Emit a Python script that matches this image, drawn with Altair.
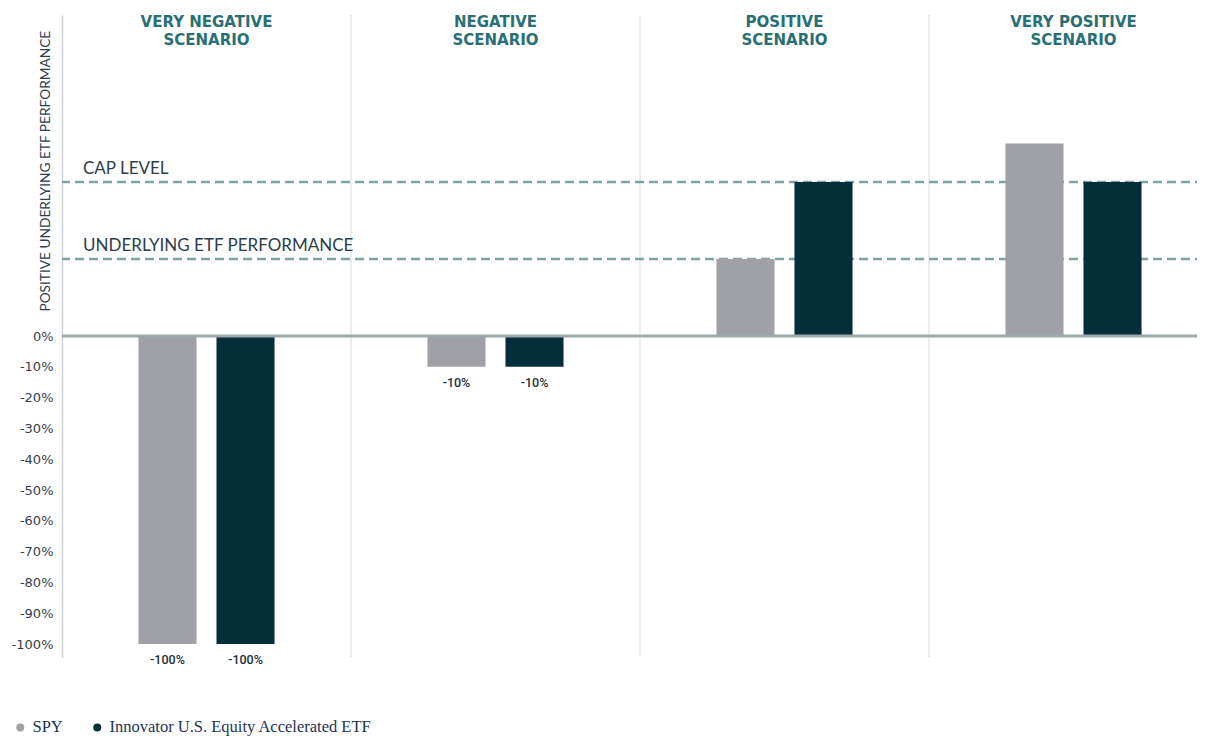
import altair as alt
import pandas as pd

# ---------------- data ----------------
scenarios = ["VERY NEGATIVE SCENARIO", "NEGATIVE SCENARIO", "POSITIVE SCENARIO", "VERY POSITIVE SCENARIO"]
headers = ["VERY NEGATIVE\nSCENARIO", "NEGATIVE\nSCENARIO", "POSITIVE\nSCENARIO", "VERY POSITIVE\nSCENARIO"]
series = ["SPY", "Innovator U.S. Equity Accelerated ETF"]
spy_values = [-100, -10, 25, 62.5]
etf_values = [-100, -10, 50, 50]
spy_labels = ["-100%", "-10%", "", ""]
etf_labels = ["-100%", "-10%", "", ""]
ref_levels = [50, 25]
ref_labels = ["CAP LEVEL", "UNDERLYING ETF PERFORMANCE"]
y_ticks = [0, -10, -20, -30, -40, -50, -60, -70, -80, -90, -100]
y_title = "POSITIVE UNDERLYING ETF PERFORMANCE"
colors = ["#a0a1a6", "#032e3a"]

rows = []
for i, s in enumerate(scenarios):
    rows.append({"scenario": s, "series": series[0], "value": spy_values[i], "label": spy_labels[i]})
    rows.append({"scenario": s, "series": series[1], "value": etf_values[i], "label": etf_labels[i]})
bars_df = pd.DataFrame(rows)
head_df = pd.DataFrame({"scenario": scenarios, "header": headers})
sep_df = pd.DataFrame({"scenario": scenarios[1:]})
ref_df = pd.DataFrame({"level": ref_levels, "text": ref_labels})

W, H = 1156, 642
xscale = alt.Scale(domain=scenarios, paddingInner=0, paddingOuter=0)
yscale = alt.Scale(domain=[-104.2, 104.2], nice=False)
X = alt.X("scenario:N", sort=scenarios, scale=xscale, axis=None)
XO = alt.XOffset("series:N", sort=series,
                 scale=alt.Scale(domain=series, paddingInner=0.256, paddingOuter=0.98))

bars = alt.Chart(bars_df).mark_bar().encode(
    x=X,
    xOffset=XO,
    y=alt.Y("value:Q", scale=yscale,
            axis=alt.Axis(values=y_ticks, labelExpr="datum.value + '%'", ticks=False, grid=False,
                          domainColor="#cdd2d5", domainWidth=1.5, labelPadding=9,
                          labelFont="DejaVu Sans", labelFontSize=13, labelColor="#34414b",
                          title=None)),
    color=alt.Color("series:N", sort=series, scale=alt.Scale(domain=series, range=colors),
                    legend=alt.Legend(orient="none", legendX=-50, legendY=704, direction="horizontal",
                                      title=None, symbolType="circle", symbolSize=64,
                                      symbolStrokeWidth=0, labelFont="Liberation Serif",
                                      labelFontSize=16.5, labelColor="#1e3456", columnPadding=26,
                                      labelOffset=4, labelLimit=0)),
)

bar_text = alt.Chart(bars_df).mark_text(
    baseline="middle", dy=16, font="Roboto", fontSize=12.5, fontWeight=500, color="#1d2f3c"
).encode(x=X, xOffset=XO, y=alt.Y("value:Q", scale=yscale), text="label:N")

seps = alt.Chart(sep_df).mark_rule(color="#d6dadd", strokeWidth=1).encode(
    x=alt.X("scenario:N", sort=scenarios, scale=xscale, axis=None, bandPosition=0)
)

zero = alt.Chart(pd.DataFrame({"v": [0]})).mark_rule(color="#9ea8ab", strokeWidth=3).encode(
    y=alt.Y("v:Q", scale=yscale)
)

refs = alt.Chart(ref_df).mark_rule(color="#7fa3a4", strokeWidth=2.5, strokeDash=[9, 5]).encode(
    y=alt.Y("level:Q", scale=yscale)
)

ref_text = alt.Chart(ref_df).mark_text(
    align="left", baseline="alphabetic", dy=-8, font="Lato", fontSize=17, color="#2d3e4b"
).encode(x=alt.value(21), y=alt.Y("level:Q", scale=yscale), text="text:N")

head_text = alt.Chart(head_df).mark_text(
    align="center", baseline="alphabetic", font="DejaVu Sans", fontSize=15, fontWeight="bold",
    color="#2a6f76", lineBreak="\n", lineHeight=18
).encode(x=X, y=alt.value(12), text="header:N")

ytitle = alt.Chart(pd.DataFrame({"t": [y_title], "v": [53.5]})).mark_text(
    angle=270, align="center", baseline="middle", font="Lato", fontSize=13.7, color="#2d3e4b"
).encode(x=alt.value(-16), y=alt.Y("v:Q", scale=yscale), text="t:N")

chart = alt.layer(seps, refs, bars, zero, bar_text, ref_text, head_text, ytitle).properties(
    width=W, height=H,
    padding={"left": 54, "top": 7, "right": -21, "bottom": 80},
    autosize=alt.AutoSizeParams(type="none"),
).configure(background="white").configure_view(stroke=None)

chart.save("out.html", embed_options={"renderer": "svg", "actions": False})
